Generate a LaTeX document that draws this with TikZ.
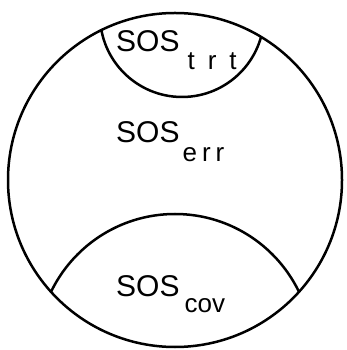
\documentclass[tikz,border=0pt]{standalone}
\usepackage{fontspec}
\usepackage{tikz}
\setmainfont{Liberation Sans}
\newcommand{\sosfont}{\fontsize{30}{33}\selectfont}
\newcommand{\subfont}{\fontsize{26}{30}\selectfont}
% SOS with a lowered, spaced index
\newcommand{\soslabel}[3]{SOS\hspace{#1}\raisebox{-#2}{\subfont #3}}

\begin{document}
\begin{tikzpicture}[
    x=1pt, y=1pt,
    rim/.style={draw=black, line width=2.5pt},
    lbl/.style={anchor=base west, inner sep=0pt, font=\sosfont},
]
\useasboundingbox (0,0) rectangle (346,350);
\coordinate (O) at (175,170);

% inner arcs, cut by the outer circle
\begin{scope}
    \clip (O) circle (167);
    \draw[rim] (182,335) circle (82);
    \draw[rim] (175,-1.6) circle (137.6);
\end{scope}
\draw[rim] (O) circle (167);

\node[lbl] (trt) at (116,298) {\soslabel{8pt}{18pt}{t\hspace{13pt}r\hspace{13pt}t}};
\node[lbl] (err) at (116,207) {\soslabel{3pt}{19pt}{e\hspace{5pt}r\hspace{5pt}r}};
\node[lbl] (cov) at (116,53) {\soslabel{5pt}{16pt}{cov}};
\end{tikzpicture}
\end{document}
